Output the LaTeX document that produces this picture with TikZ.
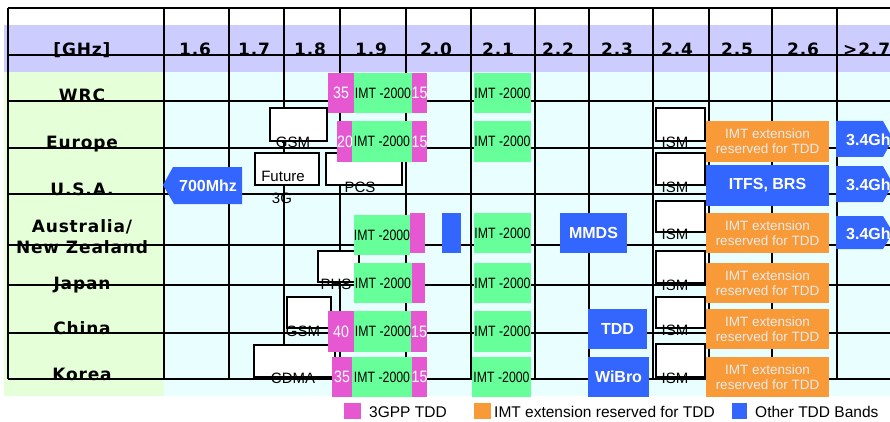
\documentclass[tikz,border=0pt]{standalone}
\usepackage{fontspec}
\setmainfont{Liberation Sans}
\newfontfamily\hdrfont{DejaVu Sans}[LetterSpace=5]
\definecolor{pinkc}{HTML}{E657D2}
\definecolor{greenc}{HTML}{66FF99}
\definecolor{orangec}{HTML}{F99A38}
\definecolor{bluec}{HTML}{3366FF}
\definecolor{lavc}{HTML}{CCCCFF}
\definecolor{labc}{HTML}{E5FFD8}
\definecolor{cyanc}{HTML}{E9FFFF}
\definecolor{ltext}{HTML}{EBEBEB}
\newcommand\imtt{\scalebox{0.82}[1]{IMT -2000}}
\newcommand\numt[1]{\scalebox{0.86}[1]{#1}}
\newcommand\blk[7]{\node[blk,#2,minimum width={(#5)-(#3)},minimum height={(#6)-(#4)}] (#1) at ({((#3)+(#5))/2},{((#4)+(#6))/2}) {#7};}
\tikzset{
  gridline/.style={line width=1.5pt, black},
  hdr/.style={font=\hdrfont\bfseries\fontsize{17}{19}\selectfont, inner sep=0pt, anchor=base},
  rowlab/.style={font=\hdrfont\bfseries\fontsize{17}{19}\selectfont, inner sep=0pt, anchor=base},
  wbox/.style={draw=black, line width=1.5pt, fill=white},
  boxtext/.style={font=\fontsize{15}{18}\selectfont, inner sep=0pt, anchor=base},
  blk/.style={inner sep=0pt, outer sep=0pt, draw=none},
  pinkb/.style={fill=pinkc, text=white, font=\fontsize{16.5}{18}\selectfont},
  greenb/.style={fill=greenc, text=black, font=\fontsize{15}{18}\selectfont},
  orangeb/.style={fill=orangec, text=ltext, align=center, font=\fontsize{13.5}{15}\selectfont},
  blueb/.style={fill=bluec, text=white, font=\bfseries\fontsize{16}{18}\selectfont},
  bluetext/.style={text=white, font=\bfseries\fontsize{16}{18}\selectfont, inner sep=0pt},
  legtext/.style={font=\fontsize{15.5}{18}\selectfont, inner sep=0pt, anchor=base west},
}
\begin{document}
\begin{tikzpicture}[x=1pt,y=-1pt]
\useasboundingbox (0,0) rectangle (890,422);
\clip (0,0) rectangle (890,422);
% backgrounds
\fill[lavc] (4,25) rectangle (890,72);
\fill[labc] (4,72) rectangle (164,396);
\fill[cyanc] (164,72) rectangle (890,396);
% header texts
\node[hdr] (hghz) at (82,56) {[GHz]};
\node[hdr] (h16) at (195,56) {1.6};
\node[hdr] (h17) at (254,56) {1.7};
\node[hdr] (h18) at (310,56) {1.8};
\node[hdr] (h19) at (371,56) {1.9};
\node[hdr] (h20) at (436,56) {2.0};
\node[hdr] (h21) at (498,56) {2.1};
\node[hdr] (h22) at (558,56) {2.2};
\node[hdr] (h23) at (617,56) {2.3};
\node[hdr] (h24) at (677,56) {2.4};
\node[hdr] (h25) at (737,56) {2.5};
\node[hdr] (h26) at (803,56) {2.6};
\node[hdr, anchor=base west] (h27) at (843,56) {>2.7};
% row labels
\node[rowlab] (lwrc) at (82,102) {WRC};
\node[rowlab] (leur) at (82,149) {Europe};
\node[rowlab] (lusa) at (82,195) {U.S.A.};
\node[rowlab] (laus) at (82,232) {Australia/};
\node[rowlab] (lnz) at (82,253) {New Zealand};
\node[rowlab] (ljap) at (82,289) {Japan};
\node[rowlab] (lchn) at (82,334) {China};
\node[rowlab] (lkor) at (82,380) {Korea};
% grid
\draw[gridline] (8,8) -- (890,8);
\foreach \yy in {55,101,148,194,245,285,333,379} \draw[gridline] (8,\yy) -- (890,\yy);
\foreach \xx in {8,164,229,284,340,406,471,535,589,653,709,772,837} \draw[gridline] (\xx,8) -- (\xx,379);
% white boxes
\draw[wbox] (270,108) rectangle (327,141);
\node[boxtext] (tgsm1) at (293,148) {GSM};
\draw[wbox] (656,108) rectangle (705,141);
\node[boxtext] (tism1) at (675,148) {ISM};
\draw[wbox] (255,153) rectangle (319,185);
\node[boxtext] (tfut) at (283,182) {Future};
\node[boxtext] (t3g) at (282,203) {3G};
\draw[wbox] (326,153) rectangle (402,185);
\node[boxtext] (tpcs) at (360,192) {PCS};
\draw[wbox] (656,153) rectangle (705,185);
\node[boxtext] (tism2) at (675,192) {ISM};
\draw[wbox] (656,201) rectangle (705,232);
\node[boxtext] (tism3) at (675,239) {ISM};
\draw[wbox] (318,251) rectangle (359,282);
\node[boxtext] (tphs) at (336,289) {PHS};
\draw[wbox] (656,251) rectangle (705,283);
\node[boxtext] (tism4) at (675,290) {ISM};
\draw[wbox] (287,297) rectangle (331,328);
\node[boxtext] (tgsm2) at (303,336) {GSM};
\draw[wbox] (656,297) rectangle (705,328);
\node[boxtext] (tism5) at (675,335) {ISM};
\draw[wbox] (254,345) rectangle (335,377);
\node[boxtext] (tcdma) at (293,383) {CDMA};
\draw[wbox] (656,344) rectangle (705,377);
\node[boxtext] (tism6) at (675,383) {ISM};
% WRC
\blk{w1}{pinkb}{328}{73}{354}{113}{\numt{35}}
\blk{w2}{greenb}{354}{73}{412}{113}{\imtt}
\blk{w3}{pinkb}{412}{73}{427}{113}{\numt{15}}
\blk{w4}{greenb}{474}{73}{531}{113}{\imtt}
% Europe
\blk{e1}{pinkb}{338}{121}{352}{162}{\numt{20}}
\blk{e2}{greenb}{352}{121}{412}{162}{\imtt}
\blk{e3}{pinkb}{412}{121}{427}{162}{\numt{15}}
\blk{e4}{greenb}{474}{121}{531}{162}{\imtt}
\blk{e5}{orangeb}{706}{121}{829}{162}{IMT extension\\reserved for TDD}
\fill[bluec] (836,121) -- (883,121) -- (893,139) -- (883,157) -- (836,157) -- cycle;
\node[bluetext, anchor=west] (e6) at (846,140) {3.4Ghz};
% USA
\fill[bluec] (163,185) -- (173,167) -- (242,167) -- (242,204) -- (174,204) -- cycle;
\node[bluetext] (u1) at (208,186) {700Mhz};
\blk{u2}{blueb}{706}{165}{829}{206}{ITFS, BRS}
\fill[bluec] (836,166) -- (883,166) -- (893,184) -- (883,202) -- (836,202) -- cycle;
\node[bluetext, anchor=west] (u3) at (846,185) {3.4Ghz};
% Australia
\blk{a1}{greenb}{354}{215}{410}{255}{\imtt}
\blk{a2}{pinkb}{410}{213}{425}{253}{}
\blk{a3}{blueb}{442}{213}{461}{253}{}
\blk{a4}{greenb}{474}{213}{531}{253}{\imtt}
\blk{a5}{blueb}{560}{213}{627}{253}{MMDS}
\blk{a6}{orangeb}{706}{213}{829}{253}{IMT extension\\reserved for TDD}
\fill[bluec] (836,216) -- (883,216) -- (893,232.5) -- (883,249) -- (836,249) -- cycle;
\node[bluetext, anchor=west] (a7) at (846,233.5) {3.4Ghz};
% Japan
\blk{j1}{greenb}{354}{263}{412}{303}{\imtt}
\blk{j2}{pinkb}{412}{263}{425}{303}{}
\blk{j3}{greenb}{474}{263}{531}{303}{\imtt}
\blk{j4}{orangeb}{706}{263}{829}{303}{IMT extension\\reserved for TDD}
% China
\blk{c1}{pinkb}{328}{311}{354}{352}{\numt{40}}
\blk{c2}{greenb}{354}{311}{412}{352}{\imtt}
\blk{c3}{pinkb}{412}{311}{426}{352}{\numt{15}}
\blk{c4}{greenb}{474}{311}{531}{352}{\imtt}
\blk{c5}{blueb}{588}{309}{647}{349}{TDD}
\blk{c6}{orangeb}{706}{309}{829}{349}{IMT extension\\reserved for TDD}
% Korea
\blk{k1}{pinkb}{332}{357}{352}{397}{\numt{35}}
\blk{k2}{greenb}{352}{357}{412}{397}{\imtt}
\blk{k3}{pinkb}{412}{357}{427}{397}{\numt{15}}
\blk{k4}{greenb}{472}{357}{531}{397}{\imtt}
\blk{k5}{blueb}{588}{357}{649}{397}{WiBro}
\blk{k6}{orangeb}{706}{357}{829}{397}{IMT extension\\reserved for TDD}
% legend
\blk{lg1}{pinkb}{344}{403}{361}{419}{}
\node[legtext] (lt1) at (369,417) {3GPP TDD};
\blk{lg2}{orangeb}{474}{403}{491}{419}{}
\node[legtext] (lt2) at (494,417) {IMT extension reserved for TDD};
\blk{lg3}{blueb}{732}{403}{747}{419}{}
\node[legtext] (lt3) at (755,417) {Other TDD Bands};
\end{tikzpicture}
\end{document}
